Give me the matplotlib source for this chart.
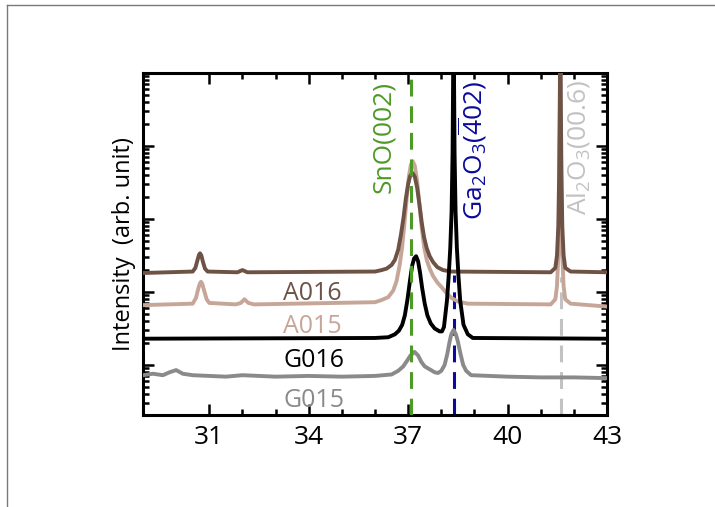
import numpy as np
import matplotlib
matplotlib.use("Agg")
import matplotlib.pyplot as plt
from matplotlib.lines import Line2D
from matplotlib.ticker import FixedLocator, LogLocator, NullFormatter

plt.rcParams['font.family'] = ['Open Sans', 'DejaVu Sans']
plt.rcParams['mathtext.fontset'] = 'custom'
plt.rcParams['mathtext.rm'] = 'Open Sans'
plt.rcParams['mathtext.it'] = 'Open Sans:italic'
plt.rcParams['mathtext.bf'] = 'Open Sans:bold'

# 2theta (deg) and log10 intensity
x_a016 = [29.0, 30.5, 30.58, 30.64, 30.69, 30.72, 30.76, 30.81, 30.87, 30.95, 31.85,
          32.0, 32.15, 36.0, 36.2, 36.35, 36.5, 36.6, 36.7, 36.78, 36.86, 36.93,
          37.0, 37.06, 37.13, 37.2, 37.27, 37.34, 37.41, 37.48, 37.56, 37.65, 37.75,
          37.88, 38.05, 38.3, 41.3, 41.44, 41.49, 41.53, 41.555, 41.575, 41.59,
          41.605, 41.625, 41.65, 41.69, 41.74, 41.9, 43.0]
lg_a016 = [2.26, 2.28, 2.33, 2.43, 2.51, 2.53, 2.50, 2.41, 2.32, 2.28, 2.27,
           2.30, 2.27, 2.28, 2.30, 2.32, 2.37, 2.44, 2.58, 2.78, 3.02, 3.28,
           3.48, 3.59, 3.63, 3.58, 3.43, 3.20, 2.95, 2.75, 2.60, 2.49, 2.41,
           2.34, 2.30, 2.28, 2.27, 2.33, 2.50, 2.90, 3.60, 4.60, 5.80,
           4.60, 3.60, 2.90, 2.50, 2.33, 2.28, 2.27]

x_a015 = [29.0, 30.5, 30.6, 30.67, 30.72, 30.75, 30.79, 30.85, 30.92, 31.0, 31.8,
          31.95, 32.06, 32.18, 32.35, 36.0, 36.2, 36.4, 36.55, 36.65, 36.74, 36.82,
          36.89, 36.96, 37.02, 37.08, 37.14, 37.2, 37.27, 37.34, 37.41, 37.48, 37.56,
          37.65, 37.75, 37.88, 38.0, 38.15, 38.3, 38.5, 38.8, 41.3, 41.44, 41.49,
          41.53, 41.555, 41.575, 41.59, 41.605, 41.625, 41.65, 41.69, 41.74, 41.9, 43.0]
lg_a015 = [1.82, 1.84, 1.92, 2.05, 2.12, 2.14, 2.11, 2.01, 1.90, 1.85, 1.83,
           1.85, 1.90, 1.85, 1.83, 1.86, 1.89, 1.93, 2.02, 2.15, 2.36, 2.62,
           2.95, 3.30, 3.58, 3.74, 3.79, 3.73, 3.52, 3.20, 2.88, 2.62, 2.44,
           2.32, 2.22, 2.13, 2.07, 1.99, 1.92, 1.87, 1.84, 1.83, 1.90, 2.08,
           2.50, 3.20, 4.30, 5.80, 4.30, 3.20, 2.50, 2.08, 1.90, 1.84, 1.80]

x_g016 = [29.0, 36.0, 36.4, 36.6, 36.72, 36.82, 36.9, 36.98, 37.05, 37.12, 37.18,
          37.24, 37.3, 37.36, 37.42, 37.5, 37.58, 37.68, 37.8, 37.95, 38.02, 38.08,
          38.17, 38.22, 38.27, 38.31, 38.34, 38.37, 38.4, 38.43, 38.47, 38.52, 38.57,
          38.67, 38.8, 38.95, 43.0]
lg_g016 = [1.36, 1.37, 1.38, 1.42, 1.47, 1.55, 1.68, 1.90, 2.14, 2.36, 2.46,
           2.49, 2.42, 2.26, 2.06, 1.84, 1.68, 1.57, 1.50, 1.46, 1.46, 1.52,
           1.88, 2.20, 2.60, 3.10, 3.90, 5.80, 3.90, 3.10, 2.60, 2.20, 1.88,
           1.55, 1.42, 1.37, 1.36]

x_g015 = [29.0, 29.3, 29.6, 29.8, 30.0, 30.2, 30.5, 31.0, 31.5, 32.0, 33.0, 34.0,
          35.0, 36.0, 36.5, 36.7, 36.85, 36.97, 37.07, 37.19, 37.3, 37.4, 37.5,
          37.65, 37.8, 37.9, 38.0, 38.1, 38.18, 38.25, 38.3, 38.37, 38.44, 38.5,
          38.58, 38.66, 38.75, 38.9, 40.0, 41.0, 42.0, 43.0]
lg_g015 = [0.86, 0.88, 0.86, 0.90, 0.93, 0.88, 0.86, 0.85, 0.84, 0.86, 0.84, 0.85,
           0.84, 0.85, 0.87, 0.92, 0.98, 1.06, 1.13, 1.18, 1.13, 1.04, 0.98,
           0.94, 0.90, 0.89, 0.92, 1.00, 1.15, 1.32, 1.42, 1.48, 1.42, 1.32,
           1.15, 1.00, 0.92, 0.86, 0.84, 0.83, 0.83, 0.82]

# reference peak positions
pos_sno = 37.08
pos_ga = 38.37
pos_al = 41.60

fig = plt.figure(figsize=(7.15, 5.07), dpi=100)
ax = fig.add_axes([0.2, 0.1815, 0.649, 0.6745])

ax.plot(x_g015, 10 ** np.array(lg_g015), color='#8a8a8a', lw=2.8, zorder=3)
ax.plot(x_a015, 10 ** np.array(lg_a015), color='#c6a698', lw=2.8, zorder=3)
ax.plot(x_a016, 10 ** np.array(lg_a016), color='#6e5246', lw=2.8, zorder=3)
ax.plot(x_g016, 10 ** np.array(lg_g016), color='black', lw=2.8, zorder=4)

ymin, ymax = 10 ** 0.315, 10 ** 5.0
ax.plot([pos_sno, pos_sno], [ymin, ymax], color='#4e9a26', lw=2.2,
        dashes=(5.5, 3.2), zorder=5)
ax.plot([pos_ga, pos_ga], [ymin, 10 ** 2.23], color='#0a0a9c', lw=2.2,
        dashes=(5.5, 3.2), zorder=2)
ax.plot([pos_al, pos_al], [ymin, 10 ** 2.2], color='#c2c2c2', lw=2.2,
        dashes=(5.5, 3.2), zorder=2)

ax.text(36.25, 10 ** 3.36, 'SnO(002)', rotation=90, ha='center', va='bottom',
        color='#4e9a26', fontsize=19)
ax.text(38.95, 10 ** 2.99, 'Ga$_2$O$_3$($\\overline{\\mathrm{4}}$02)', rotation=90,
        ha='center', va='bottom', color='#0a0a9c', fontsize=19)
ax.text(42.15, 10 ** 3.05, 'Al$_2$O$_3$(00.6)', rotation=90, ha='center',
        va='bottom', color='#c2c2c2', fontsize=19)

ax.text(34.1, 10 ** 1.89, 'A016', color='#6e5246', fontsize=18, ha='center', va='baseline')
ax.text(34.1, 10 ** 1.44, 'A015', color='#c6a698', fontsize=18, ha='center', va='baseline')
ax.text(34.15, 10 ** 0.97, 'G016', color='black', fontsize=18, ha='center', va='baseline')
ax.text(34.15, 10 ** 0.425, 'G015', color='#8a8a8a', fontsize=18, ha='center', va='baseline')

ax.set_xlim(29, 43)
ax.set_yscale('log')
ax.set_ylim(ymin, ymax)
ax.xaxis.set_major_locator(FixedLocator([31, 34, 37, 40, 43]))
ax.xaxis.set_minor_locator(FixedLocator([32, 33, 35, 36, 38, 39, 41, 42]))
ax.yaxis.set_major_locator(LogLocator(base=10, numticks=10))
ax.yaxis.set_minor_locator(LogLocator(base=10, subs=np.arange(2, 10), numticks=20))
ax.yaxis.set_major_formatter(NullFormatter())
ax.yaxis.set_minor_formatter(NullFormatter())

ax.tick_params(which='both', direction='in', top=True, right=True, width=1.8,
               labelsize=19, pad=7)
ax.tick_params(which='major', length=8)
ax.tick_params(which='minor', length=4.5)
for s in ax.spines.values():
    s.set_linewidth(2.2)

ax.set_ylabel('Intensity  (arb. unit)', fontsize=17, labelpad=-2)

# page frame lines
fx = 7 / 715
fy = 1 - 5 / 507
fig.add_artist(Line2D([fx, fx], [0, fy], color='#7a7a7a', lw=1.0, transform=fig.transFigure))
fig.add_artist(Line2D([fx, 1], [fy, fy], color='#7a7a7a', lw=1.0, transform=fig.transFigure))

fig.savefig('out.png', dpi=100)
